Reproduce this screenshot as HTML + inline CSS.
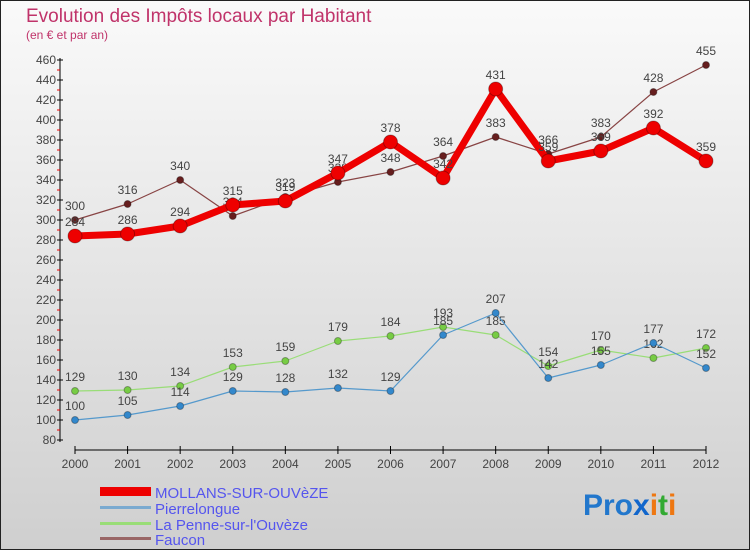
<!DOCTYPE html>
<html><head><meta charset="utf-8"><style>
html,body{margin:0;padding:0}
body{width:750px;height:550px;overflow:hidden;font-family:"Liberation Sans",sans-serif}
</style></head><body>
<svg width="750" height="550" xmlns="http://www.w3.org/2000/svg">
<defs><linearGradient id="bg" x1="0" y1="0" x2="0" y2="1"><stop offset="0" stop-color="#fafafa"/><stop offset="1" stop-color="#cfcfcf"/></linearGradient></defs>
<rect x="0.5" y="0.5" width="749" height="549" fill="url(#bg)" stroke="#222"/>
<text x="26" y="22" font-size="19" fill="#c0336a">Evolution des Impôts locaux par Habitant</text>
<text x="26" y="39" font-size="12" fill="#c0336a">(en € et par an)</text>
<g id="axes"></g>
<g id="series"></g>
<g font-size="15" fill="#5555ee">
<rect x="100" y="487" width="51" height="9" fill="#e00"/>
<text x="155" y="498">MOLLANS-SUR-OUVèZE</text>
<rect x="100" y="506" width="51" height="3" fill="#7aaad0"/>
<text x="155" y="514">Pierrelongue</text>
<rect x="100" y="522" width="51" height="3" fill="#99dd77"/>
<text x="155" y="530">La Penne-sur-l'Ouvèze</text>
<rect x="100" y="537" width="51" height="3" fill="#996666"/>
<text x="155" y="545">Faucon</text>
</g>
<g font-size="30" font-weight="bold">
<text x="583" y="515"><tspan fill="#2277cc">Pro</tspan><tspan fill="#1166cc">x</tspan><tspan fill="#ee7711">i</tspan><tspan fill="#33aa33">t</tspan><tspan fill="#ee7711">i</tspan></text>
</g>
</svg>
<script>
const years=[2000,2001,2002,2003,2004,2005,2006,2007,2008,2009,2010,2011,2012];
const yTicks=[80,100,120,140,160,180,200,220,240,260,280,300,320,340,360,380,400,420,440,460];
const mollans=[284,286,294,315,319,347,378,342,431,359,369,392,359];
const pierrelongue=[100,105,114,129,128,132,129,185,207,142,155,177,152];
const lapenne=[129,130,134,153,159,179,184,193,185,154,170,162,172];
const faucon=[300,316,340,304,323,338,348,364,383,366,383,428,455];
const NS="http://www.w3.org/2000/svg";
function xs(i){return 75+i*(706-75)/12;}
function ys(v){return 440-(v-80)*(380/380);}
function mk(t,a,p){const e=document.createElementNS(NS,t);for(const k in a)e.setAttribute(k,a[k]);p.appendChild(e);return e;}
const ax=document.getElementById('axes');
const yl=mk('line',{x1:60,y1:58,x2:60,y2:442,stroke:'#000'},ax);


yTicks.forEach(v=>{
 mk('line',{x1:57,y1:ys(v),x2:63,y2:ys(v),stroke:'#000'},ax);
 if(v<460) mk('line',{x1:57,y1:ys(v+10),x2:60,y2:ys(v+10),stroke:'#e00'},ax);
 const t=mk('text',{x:56,y:ys(v)+4,'font-size':12,'text-anchor':'end',fill:'#444'},ax);
 t.textContent=v;
 
 
});
const xl=mk('line',{x1:75,y1:450,x2:706,y2:450,stroke:'#000'},ax);


years.forEach((y,i)=>{
 mk('line',{x1:xs(i),y1:446,x2:xs(i),y2:454,stroke:'#000'},ax);
 const t=mk('text',{x:xs(i),y:468,'font-size':12,'text-anchor':'middle',fill:'#444'},ax);
 t.textContent=y;
 
 
});
const sg=document.getElementById('series');
function series(data,name,color,dot,w,r){
 const g=mk('g',{},sg);
 
 
 const pl=mk('polyline',{points:data.map((v,i)=>xs(i)+','+ys(v)).join(' '),fill:'none',stroke:color,'stroke-width':w,'stroke-linejoin':'round'},g);
 
 
 data.forEach((v,i)=>{
  const c=mk('circle',{cx:xs(i),cy:ys(v),r:r,fill:dot,stroke:'rgba(0,0,0,0.3)','stroke-width':1},g);
  
  
  const t=mk('text',{x:xs(i),y:ys(v)-10,'font-size':12,'text-anchor':'middle',fill:'#444'},g);
  t.textContent=v;
  
  
 });
}
series(faucon,'faucon','#884444','#661e1e',1.2,3.5);
series(lapenne,'la-penne','#99dd77','#77cc44',1.2,3.5);
series(pierrelongue,'pierrelongue','#5599cc','#3388cc',1.2,3.5);
series(mollans,'mollans','#ee0000','#ee0000',7,7);
</script>
</body></html>
